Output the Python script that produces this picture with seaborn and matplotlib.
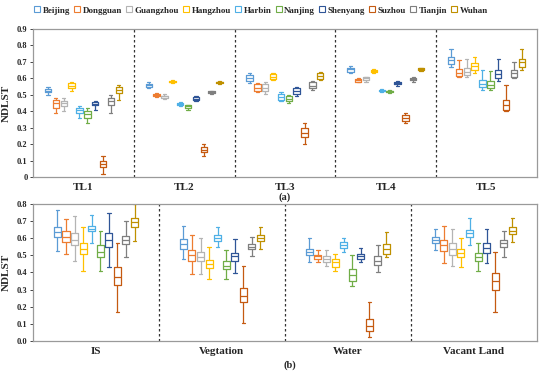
import pandas as pd
import matplotlib
matplotlib.use('Agg')
import matplotlib.pyplot as plt
from matplotlib.lines import Line2D
import seaborn as sns

# cities and their colours
cities = ['Beijing', 'Dongguan', 'Guangzhou', 'Hangzhou', 'Harbin',
          'Nanjing', 'Shenyang', 'Suzhou', 'Tianjin', 'Wuhan']
colors = ['#5B9BD5', '#ED7D31', '#B4B4B4', '#FFC000', '#4FB0E6',
          '#70AD47', '#2F5597', '#C55A11', '#7F7F7F', '#BF9000']

# five-number summaries (whisker low, q1, median, q3, whisker high), one per city
# panel (a): traffic levels
tl_names = ['TL1', 'TL2', 'TL3', 'TL4', 'TL5']
tl1 = [(0.50, 0.515, 0.525, 0.535, 0.55), (0.39, 0.42, 0.45, 0.47, 0.48),
       (0.40, 0.43, 0.45, 0.46, 0.48), (0.52, 0.54, 0.555, 0.57, 0.58),
       (0.36, 0.39, 0.405, 0.42, 0.43), (0.33, 0.36, 0.38, 0.40, 0.42),
       (0.41, 0.435, 0.445, 0.455, 0.46), (0.02, 0.06, 0.08, 0.10, 0.13),
       (0.39, 0.44, 0.46, 0.48, 0.50), (0.47, 0.51, 0.53, 0.55, 0.56)]
tl2 = [(0.54, 0.55, 0.56, 0.565, 0.575), (0.485, 0.49, 0.50, 0.505, 0.51),
       (0.475, 0.48, 0.49, 0.495, 0.505), (0.57, 0.575, 0.58, 0.585, 0.59),
       (0.43, 0.44, 0.445, 0.45, 0.455), (0.41, 0.42, 0.43, 0.435, 0.44),
       (0.46, 0.47, 0.475, 0.485, 0.49), (0.13, 0.15, 0.165, 0.18, 0.20),
       (0.505, 0.51, 0.515, 0.52, 0.525), (0.565, 0.57, 0.575, 0.58, 0.585)]
tl3 = [(0.57, 0.585, 0.60, 0.62, 0.63), (0.515, 0.525, 0.54, 0.565, 0.57),
       (0.505, 0.52, 0.54, 0.565, 0.575), (0.59, 0.595, 0.61, 0.625, 0.635),
       (0.46, 0.47, 0.485, 0.505, 0.515), (0.45, 0.46, 0.475, 0.495, 0.50),
       (0.49, 0.505, 0.52, 0.54, 0.55), (0.20, 0.24, 0.27, 0.30, 0.33),
       (0.53, 0.54, 0.555, 0.575, 0.585), (0.59, 0.595, 0.615, 0.63, 0.64)]
tl4 = [(0.635, 0.64, 0.655, 0.665, 0.675), (0.575, 0.58, 0.59, 0.595, 0.60),
       (0.58, 0.59, 0.60, 0.605, 0.61), (0.635, 0.64, 0.645, 0.65, 0.655),
       (0.515, 0.52, 0.525, 0.53, 0.535), (0.51, 0.515, 0.52, 0.525, 0.53),
       (0.555, 0.565, 0.57, 0.58, 0.585), (0.33, 0.342, 0.36, 0.378, 0.39),
       (0.58, 0.59, 0.595, 0.60, 0.605), (0.645, 0.65, 0.655, 0.66, 0.665)]
tl5 = [(0.67, 0.686, 0.71, 0.728, 0.78), (0.605, 0.615, 0.635, 0.655, 0.71),
       (0.61, 0.62, 0.64, 0.665, 0.72), (0.635, 0.65, 0.675, 0.695, 0.73),
       (0.53, 0.545, 0.565, 0.59, 0.65), (0.53, 0.54, 0.56, 0.585, 0.645),
       (0.585, 0.60, 0.625, 0.65, 0.715), (0.40, 0.41, 0.44, 0.47, 0.56),
       (0.60, 0.61, 0.63, 0.65, 0.70), (0.65, 0.67, 0.70, 0.72, 0.78)]

# panel (b): land cover
lc_names = ['IS', 'Vegtation', 'Water', 'Vacant Land']
lc_is = [(0.525, 0.605, 0.635, 0.667, 0.765), (0.51, 0.58, 0.61, 0.64, 0.71),
         (0.47, 0.56, 0.59, 0.63, 0.73), (0.41, 0.51, 0.535, 0.57, 0.665),
         (0.57, 0.64, 0.655, 0.67, 0.735), (0.41, 0.49, 0.52, 0.56, 0.64),
         (0.43, 0.55, 0.59, 0.63, 0.75), (0.17, 0.325, 0.375, 0.43, 0.57),
         (0.49, 0.565, 0.59, 0.615, 0.70), (0.585, 0.665, 0.695, 0.72, 0.80)]
lc_veg = [(0.48, 0.54, 0.565, 0.595, 0.67), (0.39, 0.47, 0.50, 0.53, 0.62),
          (0.39, 0.465, 0.49, 0.52, 0.60), (0.36, 0.425, 0.45, 0.475, 0.55),
          (0.55, 0.585, 0.60, 0.62, 0.665), (0.36, 0.42, 0.44, 0.465, 0.53),
          (0.395, 0.47, 0.495, 0.515, 0.595), (0.105, 0.225, 0.265, 0.31, 0.44),
          (0.495, 0.535, 0.55, 0.565, 0.605), (0.54, 0.585, 0.60, 0.62, 0.665)]
lc_water = [(0.46, 0.50, 0.52, 0.54, 0.60), (0.46, 0.48, 0.495, 0.505, 0.53),
            (0.44, 0.46, 0.48, 0.495, 0.53), (0.41, 0.435, 0.46, 0.48, 0.51),
            (0.52, 0.545, 0.56, 0.58, 0.60), (0.32, 0.35, 0.385, 0.42, 0.50),
            (0.46, 0.48, 0.495, 0.51, 0.545), (0.025, 0.06, 0.09, 0.13, 0.23),
            (0.40, 0.445, 0.47, 0.495, 0.56), (0.49, 0.51, 0.54, 0.565, 0.635)]
lc_vacant = [(0.53, 0.57, 0.59, 0.61, 0.655), (0.455, 0.525, 0.56, 0.59, 0.67),
             (0.44, 0.505, 0.54, 0.575, 0.655), (0.43, 0.49, 0.515, 0.535, 0.60),
             (0.56, 0.605, 0.63, 0.65, 0.72), (0.41, 0.47, 0.49, 0.515, 0.575),
             (0.455, 0.515, 0.545, 0.575, 0.655), (0.17, 0.30, 0.35, 0.395, 0.52),
             (0.49, 0.55, 0.57, 0.59, 0.645), (0.58, 0.625, 0.645, 0.665, 0.72)]

ticks_a = [0, 0.1, 0.2, 0.3, 0.4, 0.5, 0.6, 0.7, 0.8, 0.9]
ticklabels_a = ['0', '0.1', '0.2', '0.3', '0.4', '0.5', '0.6', '0.7', '0.8', '0.9']
ticks_b = [0, 0.1, 0.2, 0.3, 0.4, 0.5, 0.6, 0.7, 0.8]
ticklabels_b = ['0.0', '0.1', '0.2', '0.3', '0.4', '0.5', '0.6', '0.7', '0.8']


def to_long(names, groups):
    rows = []
    for name, summaries in zip(names, groups):
        for city, five in zip(cities, summaries):
            for v in five:
                rows.append({'group': name, 'city': city, 'NDLST': v})
    return pd.DataFrame(rows)


df_a = to_long(tl_names, [tl1, tl2, tl3, tl4, tl5])
df_b = to_long(lc_names, [lc_is, lc_veg, lc_water, lc_vacant])

sns.set_style('white')
plt.rcParams['font.family'] = ['Liberation Serif', 'DejaVu Serif']
plt.rcParams['font.weight'] = 'bold'

fig = plt.figure(figsize=(5.5, 3.71), dpi=100)
ax_a = fig.add_axes([0.06, 0.523, 0.916, 0.399])
ax_b = fig.add_axes([0.06, 0.081, 0.916, 0.369])


def draw_panel(ax, df, names, width, ticks, ticklabels):
    sns.boxplot(data=df, x='group', y='NDLST', hue='city', order=names,
                hue_order=cities, palette=colors, whis=(0, 100), fill=False,
                width=width, gap=0.18, linewidth=0.9, dodge=True, ax=ax,
                legend=False)
    for i in range(len(names) - 1):
        ax.axvline(i + 0.5, color='#333333', linestyle=(0, (2, 2)), linewidth=0.9)
    ax.set_xlim(-0.5, len(names) - 0.5)
    ax.set_ylim(ticks[0], ticks[-1])
    ax.set_yticks(ticks)
    ax.set_yticklabels(ticklabels, fontsize=6, fontweight='bold')
    ax.tick_params(axis='x', labelsize=8, length=0, pad=4)
    ax.tick_params(axis='y', length=2, width=0.6, pad=2, left=True)
    for lbl in ax.get_xticklabels():
        lbl.set_fontweight('bold')
    ax.set_xlabel('')
    ax.set_ylabel('NDLST', fontsize=8, fontweight='bold', labelpad=4)
    for s in ax.spines.values():
        s.set_color('#9A9A9A')
        s.set_linewidth(0.9)


draw_panel(ax_a, df_a, tl_names, 0.78, ticks_a, ticklabels_a)
draw_panel(ax_b, df_b, lc_names, 0.68, ticks_b, ticklabels_b)

fig.text(0.518, 0.462, '(a)', fontsize=7.5, fontweight='bold', ha='center')
fig.text(0.527, 0.008, '(b)', fontsize=7.5, fontweight='bold', ha='center')

handles = [Line2D([], [], linestyle='none', marker='s', markersize=4.5,
                  markerfacecolor='white', markeredgecolor=c, markeredgewidth=0.8)
           for c in colors]
fig.legend(handles, cities, loc='upper center', bbox_to_anchor=(0.475, 1.005),
           ncol=10, frameon=False, handlelength=0.6,
           handletextpad=0.3, columnspacing=0.5, prop={'weight': 'bold', 'size': 6.5})

fig.savefig('out.png', dpi=100)
